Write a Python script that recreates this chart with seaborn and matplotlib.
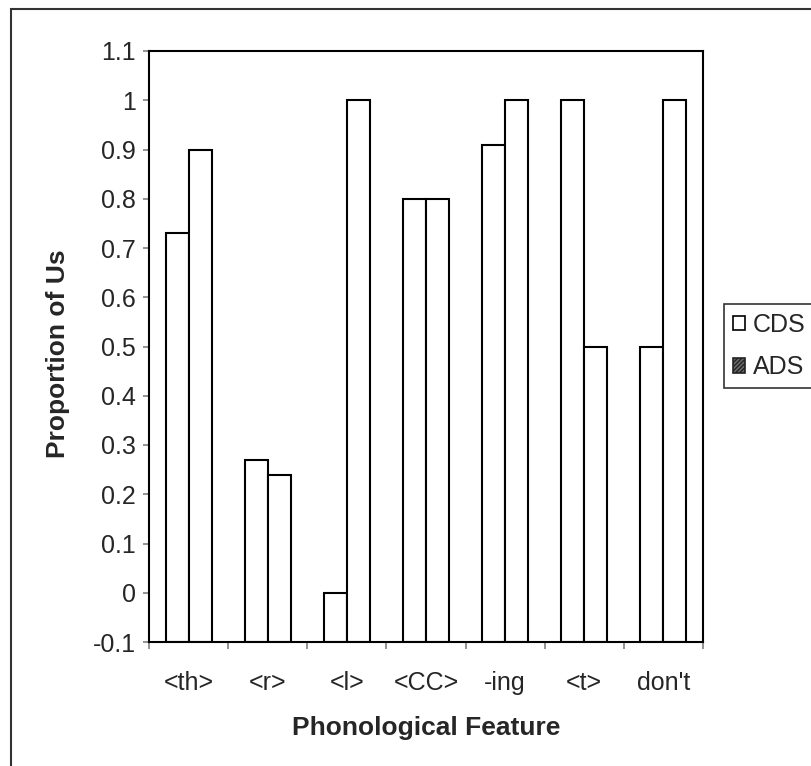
import matplotlib
matplotlib.use("Agg")
import matplotlib.pyplot as plt
from matplotlib.patches import Rectangle, Patch
from matplotlib.transforms import Bbox, TransformedBbox
import seaborn as sns
import pandas as pd

# ---- data ----
features = ["<th>", "<r>", "<l>", "<CC>", "-ing", "<t>", "don't"]
cds = [0.73, 0.27, 0.00, 0.80, 0.91, 1.00, 0.50]
ads = [0.90, 0.24, 1.00, 0.80, 1.00, 0.50, 1.00]
series = ["CDS", "ADS"]
yticks = [-0.1, 0.0, 0.1, 0.2, 0.3, 0.4, 0.5, 0.6, 0.7, 0.8, 0.9, 1.0, 1.1]
ytick_labels = ["-0.1", "0", "0.1", "0.2", "0.3", "0.4", "0.5", "0.6", "0.7", "0.8", "0.9", "1", "1.1"]
BASELINE = -0.1

df = pd.DataFrame({
    "Feature": features * 2,
    "Register": ["CDS"] * len(features) + ["ADS"] * len(features),
    "Value": cds + ads,
})
df["Height"] = df["Value"] - BASELINE

sns.set_theme(style="white")
plt.rcParams["font.family"] = ["Liberation Sans", "DejaVu Sans"]

fig = plt.figure(figsize=(8.12, 7.66), dpi=100)
ax = fig.add_axes([149 / 812, 1 - 642 / 766, (703 - 149) / 812, (642 - 51) / 766])

sns.barplot(data=df, x="Feature", y="Height", hue="Register", order=features,
            hue_order=series, palette=["white", "white"], width=0.58,
            edgecolor="black", linewidth=1.5, bottom=BASELINE, ax=ax,
            legend=False, saturation=1)

ax.set_ylim(-0.1, 1.1)
ax.set_xlim(-0.5, len(features) - 0.5)
ax.set_yticks(yticks)
ax.set_yticklabels(ytick_labels)
ax.tick_params(axis="y", which="major", direction="out", length=4.5, width=1.2,
               color="#808080", labelsize=18, pad=5, left=True)

# x ticks at category boundaries, labels centred
ax.set_xticks([i - 0.5 for i in range(len(features) + 1)])
ax.set_xticklabels([])
ax.set_xticks(range(len(features)), minor=True)
ax.set_xticklabels(features, minor=True)
ax.tick_params(axis="x", which="major", direction="out", length=5, width=1.2,
               color="#808080", bottom=True)
ax.tick_params(axis="x", which="minor", length=0, labelsize=18, pad=21)

for s in ax.spines.values():
    s.set_color("black")
    s.set_linewidth(1.5)
    s.set_visible(True)

ax.set_xlabel("Phonological Feature", fontsize=19, fontweight="bold", labelpad=15)
ax.set_ylabel("Proportion of Use", fontsize=19, fontweight="bold", labelpad=16)
lab = ax.yaxis.label
lab.set_clip_on(True)
lab.set_clip_box(TransformedBbox(Bbox([[0, 0], [1, 1 - 250 / 766]]), fig.transFigure))

# legend
handles = [
    Patch(facecolor="white", edgecolor="black", linewidth=1.2),
    Patch(facecolor="#6a6a6a", edgecolor="#222222", hatch="////////", linewidth=1.2),
]
leg = fig.legend(handles, series, loc="center left",
                 bbox_to_anchor=(724 / 812, 1 - 346 / 766), bbox_transform=fig.transFigure,
                 fontsize=18, frameon=True, fancybox=False, edgecolor="black",
                 handlelength=0.5, handleheight=0.5, handletextpad=0.3,
                 borderpad=0.35, labelspacing=0.75, borderaxespad=0)
leg.get_frame().set_linewidth(1.2)

# outer chart border
fig.patches.append(Rectangle((11 / 812, -0.05), 1.2, 1 - 9 / 766 + 0.05,
                             transform=fig.transFigure, fill=False,
                             edgecolor="#333333", linewidth=1.5))

fig.savefig("out.png", dpi=100)
